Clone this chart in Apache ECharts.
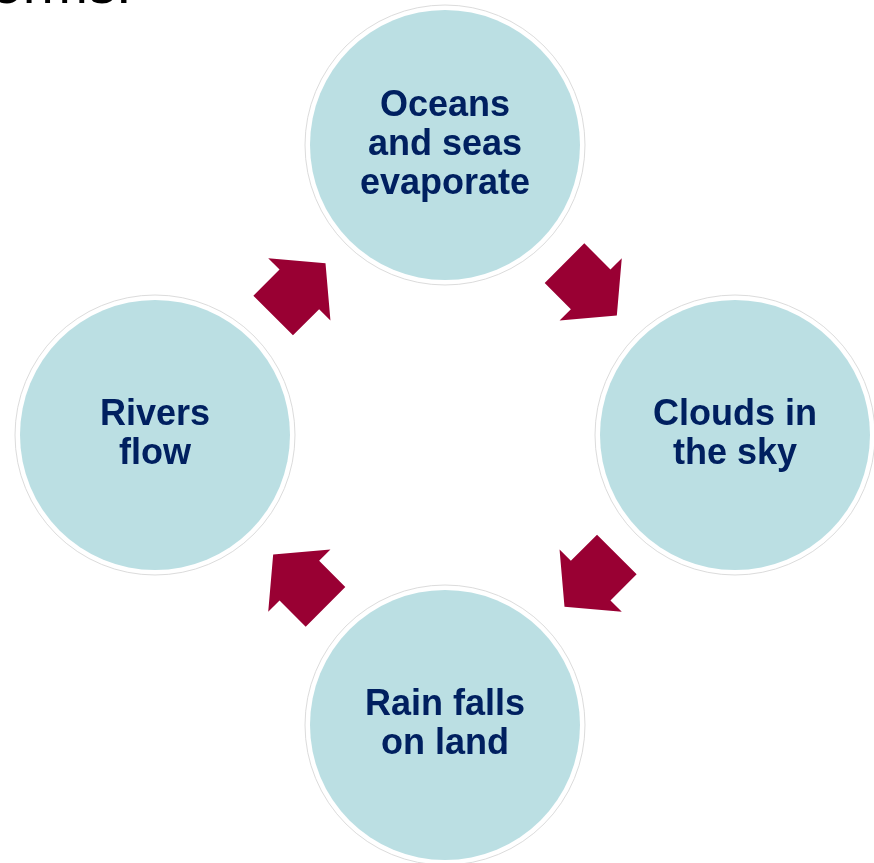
<!DOCTYPE html>
<html>
<head>
<meta charset="utf-8">
<script src="https://cdn.jsdelivr.net/npm/echarts@6/dist/echarts.min.js"></script>
<style>
  html, body { margin: 0; padding: 0; background: #fff; }
  #chart { width: 874px; height: 863px; }
</style>
</head>
<body>
<div id="chart"></div>
<script>
// stages of the cycle, placed round the ring (angle in degrees, clockwise from top)
var stages = ['Oceans\nand seas\nevaporate', 'Clouds in\nthe sky', 'Rain falls\non land', 'Rivers\nflow'];
var stageAngles = [0, 90, 180, 270];
var stageRadius = 290;

// arrows between the stages
var arrowAngles = [45, 135, 225, 315];
var arrowRotate = [-135, 135, 45, -45];
var arrowRadius = 206;

(function() {
    var myChart = echarts.init(document.getElementById('chart'));

    var stageData = stages.map(function(name, i) {
        return { name: name, value: [stageRadius, stageAngles[i]] };
    });
    var arrowData = arrowAngles.map(function(a, i) {
        return { value: [arrowRadius, a], symbolRotate: arrowRotate[i] };
    });

    var option = {
        backgroundColor: '#fff',
        animation: false,
        graphic: [{
            type: 'text',
            left: -24,
            top: -40,
            style: {
                text: 'forms.',
                font: '56px "Liberation Sans", Arial, sans-serif',
                fill: '#000'
            }
        }],
        polar: {
            center: [445, 435],
            radius: 300
        },
        angleAxis: {
            type: 'value',
            min: 0,
            max: 360,
            startAngle: 90,
            clockwise: true,
            show: false
        },
        radiusAxis: {
            type: 'value',
            min: 0,
            max: 300,
            show: false
        },
        series: [{
            // outer white ring with thin grey edge
            type: 'scatter',
            coordinateSystem: 'polar',
            symbol: 'circle',
            symbolSize: 280,
            silent: true,
            itemStyle: {
                color: '#fff',
                opacity: 1,
                borderColor: '#dcdcdc',
                borderWidth: 1
            },
            data: stageData.map(function(d) { return d.value; }),
            z: 1
        }, {
            type: 'scatter',
            coordinateSystem: 'polar',
            symbol: 'circle',
            symbolSize: 270,
            itemStyle: {
                color: '#bbdfe3',
                opacity: 1
            },
            label: {
                show: true,
                position: 'inside',
                formatter: '{b}',
                color: '#002060',
                fontFamily: '"Liberation Sans", Arial, sans-serif',
                fontWeight: 'bold',
                fontSize: 36,
                lineHeight: 39,
                align: 'center'
            },
            data: stageData,
            z: 2
        }, {
            type: 'scatter',
            coordinateSystem: 'polar',
            symbol: 'path://M0,-37 L44,0 L28,0 L28,37 L-28,37 L-28,0 L-44,0 Z',
            symbolSize: [88, 74],
            itemStyle: {
                color: '#990033',
                opacity: 1
            },
            data: arrowData,
            z: 3
        }]
    };

    myChart.setOption(option);

    window.addEventListener('resize', function() {
        myChart.resize();
    });
})();
</script>
</body>
</html>
